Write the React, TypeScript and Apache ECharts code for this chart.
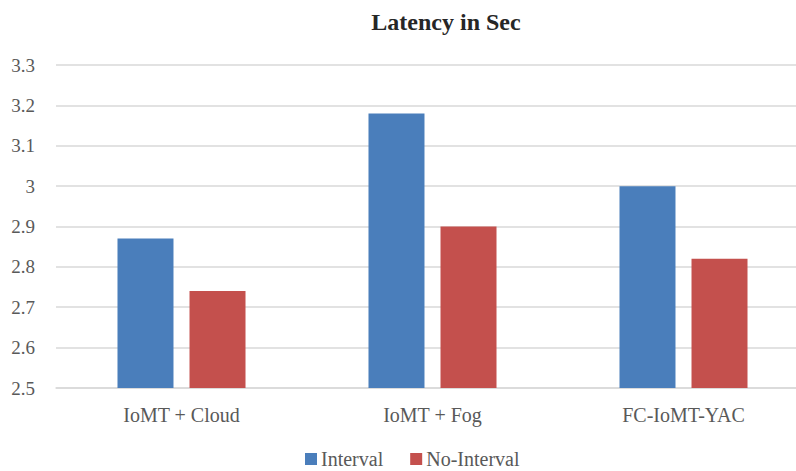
import React, { useEffect, useRef } from "react";
import * as echarts from "echarts";

const categories = ["IoMT + Cloud", "IoMT + Fog", "FC-IoMT-YAC"];
const intervalValues = [2.87, 3.18, 3.0];
const noIntervalValues = [2.74, 2.9, 2.82];
const yMin = 2.5;
const yMax = 3.3;
const yStep = 0.1;

export default function App() {
  const ref = useRef<HTMLDivElement>(null);
  useEffect(() => {
    document.body.style.margin = "0";
    const chart = echarts.init(ref.current!, null, { renderer: "svg" });
    const font = "Liberation Serif";
    chart.setOption({
      animation: false,
      backgroundColor: "#ffffff",
      graphic: [
        {
          type: "text",
          x: 446,
          y: 10,
          style: {
            text: "Latency in Sec",
            fontFamily: font,
            fontWeight: "bold",
            fontSize: 24,
            fill: "#262626",
            textAlign: "center",
            textVerticalAlign: "top",
          },
        },
      ],
      legend: {
        top: 449,
        left: 305,
        padding: 0,
        icon: "rect",
        itemWidth: 12,
        itemHeight: 12,
        itemGap: 27,
        textStyle: {
          fontFamily: font,
          fontSize: 20,
          lineHeight: 20,
          color: "#595959",
          padding: [0, 0, 0, -1],
        },
        data: ["Interval", "No-Interval"],
      },
      grid: { left: 56, top: 65, width: 753, height: 323 },
      xAxis: {
        type: "category",
        data: categories,
        axisLine: { show: true, lineStyle: { color: "#d9d9d9", width: 1.5 } },
        axisTick: { show: false },
        axisLabel: { fontFamily: font, fontSize: 20, color: "#595959", margin: 17 },
      },
      yAxis: {
        type: "value",
        min: yMin,
        max: yMax,
        interval: yStep,
        axisLine: { show: false },
        axisTick: { show: false },
        splitLine: { lineStyle: { color: "#d9d9d9", width: 1.5 } },
        axisLabel: {
          fontFamily: font,
          fontSize: 19,
          color: "#595959",
          margin: 21,
          formatter: (v: number) => String(Math.round(v * 10) / 10),
        },
      },
      series: [
        {
          name: "Interval",
          type: "bar",
          data: intervalValues,
          barWidth: 56,
          barGap: "28.6%",
          itemStyle: { color: "#4A7EBB" },
        },
        {
          name: "No-Interval",
          type: "bar",
          data: noIntervalValues,
          barWidth: 56,
          itemStyle: { color: "#C4504D" },
        },
      ],
    });
    return () => chart.dispose();
  }, []);
  return (
    <div style={{ width: 796, height: 471, overflow: "hidden", position: "relative" }}>
      <div ref={ref} style={{ width: 830, height: 471 }} />
    </div>
  );
}
